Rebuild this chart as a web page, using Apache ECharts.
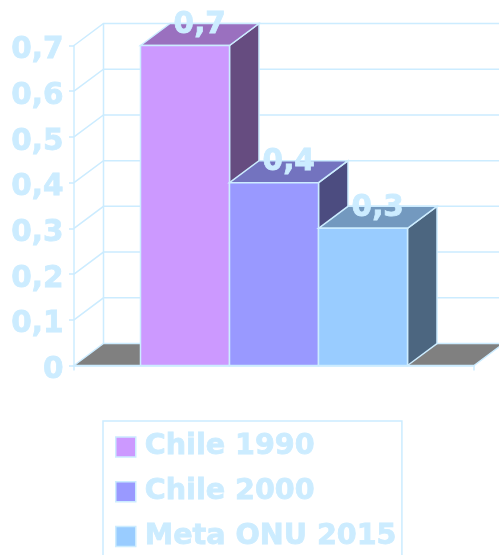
<!DOCTYPE html>
<html>
<head>
<meta charset="utf-8">
<style>html,body{margin:0;padding:0;background:#fff}#c{width:499px;height:555px}</style>
<script src="https://cdn.jsdelivr.net/npm/echarts@6/dist/echarts.min.js"></script>
</head>
<body>
<div id="c"></div>
<script>
var categories = [''];
var seriesNames = ['Chile 1990', 'Chile 2000', 'Meta ONU 2015'];
var chile1990 = [0.7];
var chile2000 = [0.4];
var meta2015 = [0.3];
var yTicks = [0, 0.1, 0.2, 0.3, 0.4, 0.5, 0.6, 0.7];

var FRONT = ['#CC99FF', '#9999FF', '#99CCFF'];
var TOP = ['#9A70BF', '#7373BF', '#7399BF'];
var SIDE = ['#664C80', '#4C4C80', '#4C6680'];
var LINE = '#CCECFF';
var LW = 1.5;
var FONT = '"DejaVu Sans", Verdana, sans-serif';
var DX = 29.5, DY = -22, BAR_FRAC = 0.2225;

function comma(v) { return String(v).replace('.', ','); }

function poly(points, fill, stroke) {
  return { type: 'polygon', shape: { points: points },
    style: { fill: fill, stroke: stroke || LINE, lineWidth: LW } };
}

function renderWall(params, api) {
  var v = api.value(0);
  var p = api.coord([0, v]);
  var band = api.size([1, 0])[0];
  var x0 = p[0] - band / 2, x1 = p[0] + band / 2, y = p[1];
  var kids = [];
  if (v === 0) {
    kids.push(poly([[x0, y], [x0 + DX, y + DY], [x1 + DX, y + DY], [x1, y]], '#808080'));
    var top = api.coord([0, yTicks[yTicks.length - 1]])[1];
    kids.push({ type: 'line', shape: { x1: x0 + DX, y1: y + DY, x2: x0 + DX, y2: top + DY },
      style: { stroke: LINE, lineWidth: LW } });
  } else {
    kids.push({ type: 'polyline', shape: { points: [[x0, y], [x0 + DX, y + DY], [x1 + DX, y + DY]] },
      style: { stroke: LINE, lineWidth: LW, fill: null } });
  }
  return { type: 'group', children: kids };
}

function renderBar(idx) {
  return function (params, api) {
    var v = api.value(1);
    var c = api.coord([0, v]);
    var base = api.coord([0, 0]);
    var band = api.size([1, 0])[0];
    var w = band * BAR_FRAC;
    var l = c[0] + (idx - 1.5) * w, r = l + w, t = c[1], b = base[1];
    return { type: 'group', children: [
      poly([[r, b], [r + DX, b + DY], [r + DX, t + DY], [r, t]], SIDE[idx]),
      poly([[l, t], [l + DX, t + DY], [r + DX, t + DY], [r, t]], TOP[idx]),
      poly([[l, t], [r, t], [r, b], [l, b]], FRONT[idx]),
      { type: 'text', z2: 10, style: { text: comma(v), x: (l + r) / 2 + DX / 2, y: t + DY + 2,
        align: 'center', verticalAlign: 'middle', fill: LINE, stroke: LINE, lineWidth: 0.8, font: 'bold 29.5px ' + FONT } }
    ] };
  };
}

var values = [chile1990, chile2000, meta2015];
var series = [{
  type: 'custom', name: 'walls', silent: true, z: 1,
  data: yTicks.map(function (t) { return [t]; }),
  encode: { y: 0 },
  renderItem: renderWall
}];
seriesNames.forEach(function (n, i) {
  series.push({
    type: 'custom', name: n, z: 2 + i,
    itemStyle: { color: FRONT[i] },
    data: values[i].map(function (v, k) { return [k, v]; }),
    encode: { x: 0, y: 1 },
    renderItem: renderBar(i)
  });
});

var chart = echarts.init(document.getElementById('c'), null, { renderer: 'canvas' });
chart.setOption({
  backgroundColor: '#fff',
  animation: false,
  grid: { left: 74, right: 25, top: 45.5, bottom: 189.5, containLabel: false },
  xAxis: {
    type: 'category', data: categories, boundaryGap: true,
    axisLine: { show: true, lineStyle: { color: LINE, width: LW } },
    axisTick: { show: true, length: 5, lineStyle: { color: LINE, width: LW } },
    axisLabel: { show: false }, splitLine: { show: false }
  },
  yAxis: {
    type: 'value', min: 0, max: 0.7, interval: 0.1,
    axisLine: { show: true, lineStyle: { color: LINE, width: LW } },
    axisTick: { show: true, length: 5, lineStyle: { color: LINE, width: LW } },
    axisLabel: { color: LINE, fontFamily: FONT, fontWeight: 'bold', fontSize: 29.5, margin: 10.5,
      textBorderColor: LINE, textBorderWidth: 0.8, verticalAlign: 'top', lineHeight: 10,
      formatter: function (v) { return comma(Math.round(v * 10) / 10); } },
    splitLine: { show: false }
  },
  legend: {
    show: true, orient: 'vertical', left: 103, top: 421, height: 200,
    padding: [11, 5, 40, 12], itemGap: 15, itemWidth: 20, itemHeight: 20,
    borderColor: LINE, borderWidth: LW, icon: 'rect', selectedMode: false,
    data: seriesNames.map(function (n) {
      return { name: n, itemStyle: { borderColor: LINE, borderWidth: LW } };
    }),
    textStyle: { color: LINE, fontFamily: FONT, fontWeight: 'bold', fontSize: 28.6, lineHeight: 20,
      textBorderColor: LINE, textBorderWidth: 0.8, padding: [0, 0, 0, 4] },
    itemStyle: { borderColor: LINE, borderWidth: LW }
  },
  series: series
});
</script>
</body>
</html>
